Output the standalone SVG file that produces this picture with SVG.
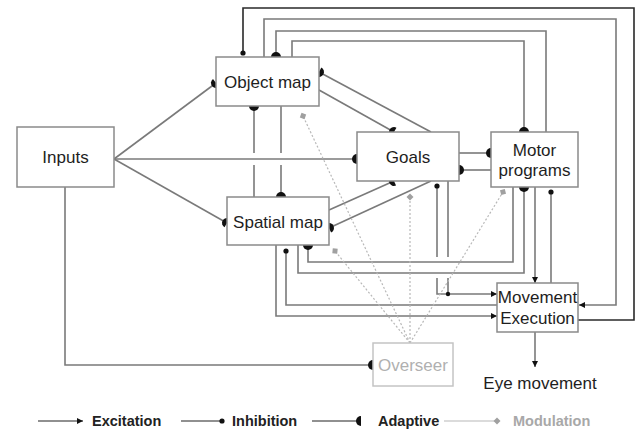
<svg xmlns="http://www.w3.org/2000/svg" width="638" height="431" viewBox="0 0 638 431">
  <style>
    .box { fill: #fff; stroke: #8a8a8a; stroke-width: 1.5; }
    .lbl { font-family: "Liberation Sans", Arial, sans-serif; font-size: 17px; fill: #1e1e1e; text-anchor: middle; }
    .ln { fill: none; stroke: #7a7a7a; stroke-width: 1.6; }
    .dark { stroke: #2a2a2a; }
    .mod { fill: none; stroke: #b8b8b8; stroke-width: 1.2; stroke-dasharray: 2 2; }
    .exc { marker-end: url(#arrow); }
    .inh { marker-end: url(#dot); }
    .ada { marker-end: url(#half); }
    .mdl { marker-end: url(#diamond); }
    .leg { font-family: "Liberation Sans", Arial, sans-serif; font-size: 14.5px; font-weight: bold; fill: #222; }
  </style>
  <defs>
    <marker id="arrow" viewBox="-8 -5 10 10" refX="0" refY="0" markerWidth="10" markerHeight="10" markerUnits="userSpaceOnUse" orient="auto">
      <path d="M-6,-3 L0,0 L-6,3 Z" fill="#111"/>
    </marker>
    <marker id="dot" viewBox="-4 -4 8 8" refX="0" refY="0" markerWidth="8" markerHeight="8" markerUnits="userSpaceOnUse" orient="auto">
      <circle r="2.6" fill="#111"/>
    </marker>
    <marker id="half" viewBox="-6 -6 12 12" refX="0" refY="0" markerWidth="12" markerHeight="12" markerUnits="userSpaceOnUse" orient="auto">
      <path d="M0,-5 A5,5 0 0,0 0,5 Z" fill="#111"/>
    </marker>
    <marker id="diamond" viewBox="-5 -5 10 10" refX="0" refY="0" markerWidth="10" markerHeight="10" markerUnits="userSpaceOnUse" orient="auto">
      <path d="M-3.5,0 L0,-3.5 L3.5,0 L0,3.5 Z" fill="#a0a0a0"/>
    </marker>
  </defs>

  <!-- connectors -->
  <g id="connectors">
    <!-- from Inputs -->
    <path class="ln ada" d="M114,159 L216,83"/>
    <path class="ln ada" d="M114,159 H357"/>
    <path class="ln ada" d="M114,159 L227,223"/>
    <path class="ln ada" d="M65,187 V365 H373"/>
    <!-- Object map / Goals -->
    <path class="ln ada" d="M319,90 L394,132"/>
    <path class="ln ada" d="M431,132 L319,72"/>
    <!-- Spatial map / Goals -->
    <path class="ln ada" d="M329,210 L394,181"/>
    <path class="ln ada" d="M431,181 L329,228"/>
    <!-- Object map / Spatial map (broken where the Inputs line passes) -->
    <path class="ln ada" d="M281,106 V153 M281,165 V197"/>
    <path class="ln ada" d="M254,197 V165 M254,153 V106"/>
    <!-- Goals / Motor programs -->
    <path class="ln ada" d="M459,153 H491"/>
    <path class="ln ada" d="M491,170 H459"/>
    <!-- long feedback loops over the top -->
    <path class="ln dark inh" d="M578,320 H634 V8 H243 V53"/>
    <path class="ln exc" d="M264,57 V19 H616 V305 H579"/>
    <path class="ln ada" d="M546,132 V31 H276 V57"/>
    <path class="ln ada" d="M292,57 V41 H524 V132"/>
    <!-- Motor programs / Spatial map -->
    <path class="ln ada" d="M513,187 V262 H308 V245"/>
    <path class="ln ada" d="M298,245 V273 H524 V187"/>
    <!-- Spatial map / Movement Execution -->
    <path class="ln inh" d="M497,305 H286 V251"/>
    <path class="ln exc" d="M276,245 V316 H497"/>
    <!-- Goals / Movement Execution -->
    <path class="ln exc" d="M448,181 V257 M448,278 V294 H497"/>
    <path class="ln inh" d="M448,294 H437 V278 M437,257 V186"/>
    <circle cx="448" cy="294" r="2.2" fill="#111"/>
    <!-- Motor programs / Movement Execution -->
    <path class="ln exc" d="M535,187 V283"/>
    <path class="ln inh" d="M551,283 V192"/>
    <!-- output -->
    <path class="ln exc" d="M535,332 V367"/>
    <!-- modulation from Overseer -->
    <path class="mod mdl" d="M410,343 L303,116"/>
    <path class="mod mdl" d="M410,343 L335,251"/>
    <path class="mod mdl" d="M410,343 L410,197"/>
    <path class="mod mdl" d="M410,343 L503,192"/>
  </g>

  <!-- nodes -->
  <g id="inputs">
    <rect class="box" x="17" y="127" width="97" height="60"/>
    <text class="lbl" x="65.5" y="163">Inputs</text>
  </g>
  <g id="object-map">
    <rect class="box" x="216" y="57" width="103" height="49"/>
    <text class="lbl" x="267.5" y="88">Object map</text>
  </g>
  <g id="goals">
    <rect class="box" x="357" y="132" width="102" height="49"/>
    <text class="lbl" x="408" y="163">Goals</text>
  </g>
  <g id="motor-programs">
    <rect class="box" x="491" y="132" width="87" height="55"/>
    <text class="lbl" x="534.5" y="156">Motor</text>
    <text class="lbl" x="534.5" y="176">programs</text>
  </g>
  <g id="spatial-map">
    <rect class="box" x="227" y="197" width="102" height="48"/>
    <text class="lbl" x="278" y="228">Spatial map</text>
  </g>
  <g id="movement-execution">
    <rect class="box" x="497" y="283" width="81" height="49"/>
    <text class="lbl" x="537.5" y="303">Movement</text>
    <text class="lbl" x="537.5" y="324">Execution</text>
  </g>
  <g id="overseer">
    <rect x="373" y="343" width="80" height="43" fill="#fff" stroke="#c4c4c4" stroke-width="1.5"/>
    <text class="lbl" x="413" y="371" style="fill:#b0b0b0">Overseer</text>
  </g>
  <g id="eye-movement">
    <text class="lbl" x="540" y="389">Eye movement</text>
  </g>

  <!-- legend -->
  <g id="legend">
    <path d="M38,421 H83" stroke="#222" stroke-width="1.2" fill="none" marker-end="url(#arrow)"/>
    <text class="leg" x="92" y="426">Excitation</text>
    <path d="M181,421 H222" stroke="#222" stroke-width="1.2" fill="none" marker-end="url(#dot)"/>
    <text class="leg" x="232" y="426">Inhibition</text>
    <path d="M312,421 H361" stroke="#222" stroke-width="1.2" fill="none" marker-end="url(#half)"/>
    <text class="leg" x="378" y="426">Adaptive</text>
    <path d="M444,421 H497" stroke="#b8b8b8" stroke-width="1.2" fill="none" marker-end="url(#diamond)"/>
    <text class="leg" x="513" y="426" style="fill:#a8a8a8">Modulation</text>
  </g>
</svg>
